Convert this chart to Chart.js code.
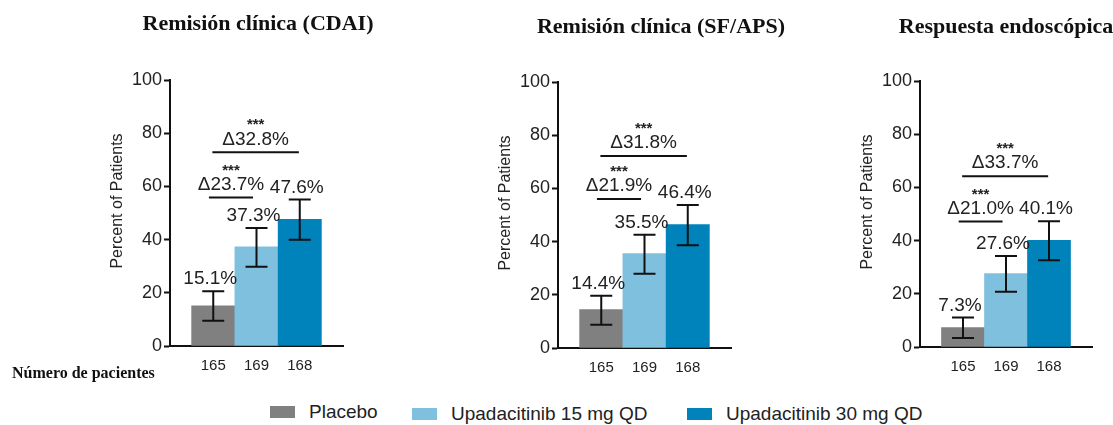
<!DOCTYPE html>
<html>
<head>
<meta charset="utf-8">
<script src="https://cdn.jsdelivr.net/npm/chart.js@4"></script>
<style>
  html, body { margin: 0; padding: 0; background: #fff; }
  body { width: 1113px; height: 425px; position: relative; overflow: hidden; font-family: Arial, "Liberation Sans", sans-serif; }
  canvas { position: absolute; }
  .title { position: absolute; transform: translate(-50%, -50%); white-space: nowrap; font: bold 22px "Liberation Serif", "Times New Roman", serif; color: #111; }
  #nLabel { position: absolute; left: 12px; top: 364px; font: bold 16px "Liberation Serif", "Times New Roman", serif; color: #111; }
  .leg { position: absolute; display: flex; align-items: center; font-size: 19px; color: #222; white-space: nowrap; }
  .leg span.box { display: inline-block; width: 25px; height: 12px; margin-right: 14px; }
</style>
</head>
<body>
<canvas id="c1" width="316" height="386" style="left:100px;top:0px"></canvas>
<canvas id="c2" width="346" height="386" style="left:488px;top:2px"></canvas>
<canvas id="c3" width="312" height="386" style="left:850px;top:1px"></canvas>
<div class="title" style="left:258px;top:23px">Remisión clínica (CDAI)</div>
<div class="title" style="left:661px;top:26px">Remisión clínica (SF/APS)</div>
<div class="title" style="left:1006px;top:26px">Respuesta endoscópica</div>
<div id="nLabel">Número de pacientes</div>
<div id="legend"></div>
<script>
// treatment groups and number of patients per group
const groups = ['Placebo', 'Upadacitinib 15 mg QD', 'Upadacitinib 30 mg QD'];
const groupColors = ['#808080', '#80c0df', '#0082bb'];
const patients = ['165', '169', '168'];
const yTicks = [0, 20, 40, 60, 80, 100];

// Remisión clínica (CDAI)
const cdai = [15.1, 37.3, 47.6];
const cdaiLow = [9.5, 29.8, 39.9];
const cdaiHigh = [20.6, 44.4, 55.1];
const cdaiDelta = ['Δ23.7%', 'Δ32.8%'];
const cdaiBracket = [55.8, 72.8];

// Remisión clínica (SF/APS)
const sfaps = [14.4, 35.5, 46.4];
const sfapsLow = [8.7, 27.9, 38.6];
const sfapsHigh = [19.6, 42.6, 53.8];
const sfapsDelta = ['Δ21.9%', 'Δ31.8%'];
const sfapsBracket = [56, 72.2];

// Respuesta endoscópica
const endo = [7.3, 27.6, 40.1];
const endoLow = [3.4, 20.8, 32.6];
const endoHigh = [11.1, 34.2, 47.3];
const endoDelta = ['Δ21.0%', 'Δ33.7%'];
const endoBracket = [47.2, 64.2];

// each bracket compares placebo (0) with one of the active arms
const bracketPairs = [[0, 1], [0, 2]];

const ink = '#111';
const sans = 'Arial, "Liberation Sans", sans-serif';

// error bars, value labels, significance brackets and y title
const overlay = {
  id: 'overlay',
  afterDatasetsDraw(chart, args, opts) {
    const { ctx, chartArea } = chart;
    const x = chart.scales.x, y = chart.scales.y;
    const vals = chart.data.datasets[0].data;
    ctx.save();
    ctx.strokeStyle = ink;
    ctx.fillStyle = '#222';
    ctx.lineWidth = 2;
    ctx.textAlign = 'center';
    ctx.textBaseline = 'middle';
    ctx.font = '19px ' + sans;

    opts.low.forEach((lo, i) => {
      const px = x.getPixelForValue(i);
      const yl = y.getPixelForValue(lo);
      const yh = y.getPixelForValue(opts.high[i]);
      ctx.beginPath();
      ctx.moveTo(px, yl); ctx.lineTo(px, yh);
      ctx.moveTo(px - 11, yl); ctx.lineTo(px + 11, yl);
      ctx.moveTo(px - 11, yh); ctx.lineTo(px + 11, yh);
      ctx.stroke();
      ctx.fillText(vals[i].y.toFixed(1) + '%', px - 3, yh - 12);
    });

    bracketPairs.forEach((pair, k) => {
      const x0 = x.getPixelForValue(pair[0] - 0.1 + 0.08 * k);
      const x1 = x.getPixelForValue(pair[1] - 0.08 + 0.06 * k);
      const by = y.getPixelForValue(opts.bracket[k]);
      const cx = (x0 + x1) / 2;
      ctx.beginPath();
      ctx.moveTo(x0, by); ctx.lineTo(x1, by);
      ctx.stroke();
      ctx.font = '19px ' + sans;
      ctx.fillText(opts.delta[k], cx, by - 13);
      ctx.font = 'bold 15px ' + sans;
      ctx.fillText('***', cx, by - 27);
    });

    ctx.translate(chartArea.left - 52, (chartArea.top + chartArea.bottom) / 2 - 12);
    ctx.rotate(-Math.PI / 2);
    ctx.font = '16px ' + sans;
    ctx.fillText('Percent of Patients', 0, 0);
    ctx.restore();
  }
};

function makeChart(id, values, low, high, delta, bracket, padRight) {
  new Chart(document.getElementById(id), {
    type: 'bar',
    data: {
      datasets: [{
        data: values.map((v, i) => ({ x: i, y: v })),
        backgroundColor: groupColors,
        borderWidth: 0,
        categoryPercentage: 1,
        barPercentage: 1
      }]
    },
    options: {
      responsive: false,
      animation: false,
      devicePixelRatio: 1,
      layout: { padding: { right: padRight, left: 0, top: 80, bottom: 0 } },
      plugins: {
        legend: { display: false },
        tooltip: { enabled: false },
        overlay: { low: low, high: high, delta: delta, bracket: bracket }
      },
      scales: {
        x: {
          type: 'linear',
          min: -1,
          max: 3,
          offset: false,
          afterBuildTicks: s => { s.ticks = patients.map((p, i) => ({ value: i })); },
          ticks: {
            callback: v => patients[v],
            font: { size: 15 },
            color: '#222',
            padding: 11,
            autoSkip: false,
            maxRotation: 0
          },
          grid: { display: false, drawTicks: false, offset: false },
          border: { color: ink, width: 2 }
        },
        y: {
          min: 0,
          max: 100,
          afterBuildTicks: s => { s.ticks = yTicks.map(v => ({ value: v })); },
          afterFit: s => { s.width = 70; },
          ticks: { font: { size: 18 }, color: '#222', padding: 2 },
          grid: { drawOnChartArea: false, drawTicks: true, tickLength: 6, tickWidth: 2, tickColor: ink },
          border: { color: ink, width: 2 }
        }
      }
    },
    plugins: [overlay]
  });
}

makeChart('c1', cdai, cdaiLow, cdaiHigh, cdaiDelta, cdaiBracket, 73);
makeChart('c2', sfaps, sfapsLow, sfapsHigh, sfapsDelta, sfapsBracket, 103);
makeChart('c3', endo, endoLow, endoHigh, endoDelta, endoBracket, 70);

// shared legend
const legendLeft = [270, 412, 687];
const legendTop = [401, 403, 403];
const legend = document.getElementById('legend');
groups.forEach((g, i) => {
  const item = document.createElement('div');
  item.className = 'leg';
  item.style.left = legendLeft[i] + 'px';
  item.style.top = legendTop[i] + 'px';
  const box = document.createElement('span');
  box.className = 'box';
  box.style.background = groupColors[i];
  const txt = document.createElement('span');
  txt.textContent = g;
  item.appendChild(box);
  item.appendChild(txt);
  legend.appendChild(item);
});
</script>
</body>
</html>
